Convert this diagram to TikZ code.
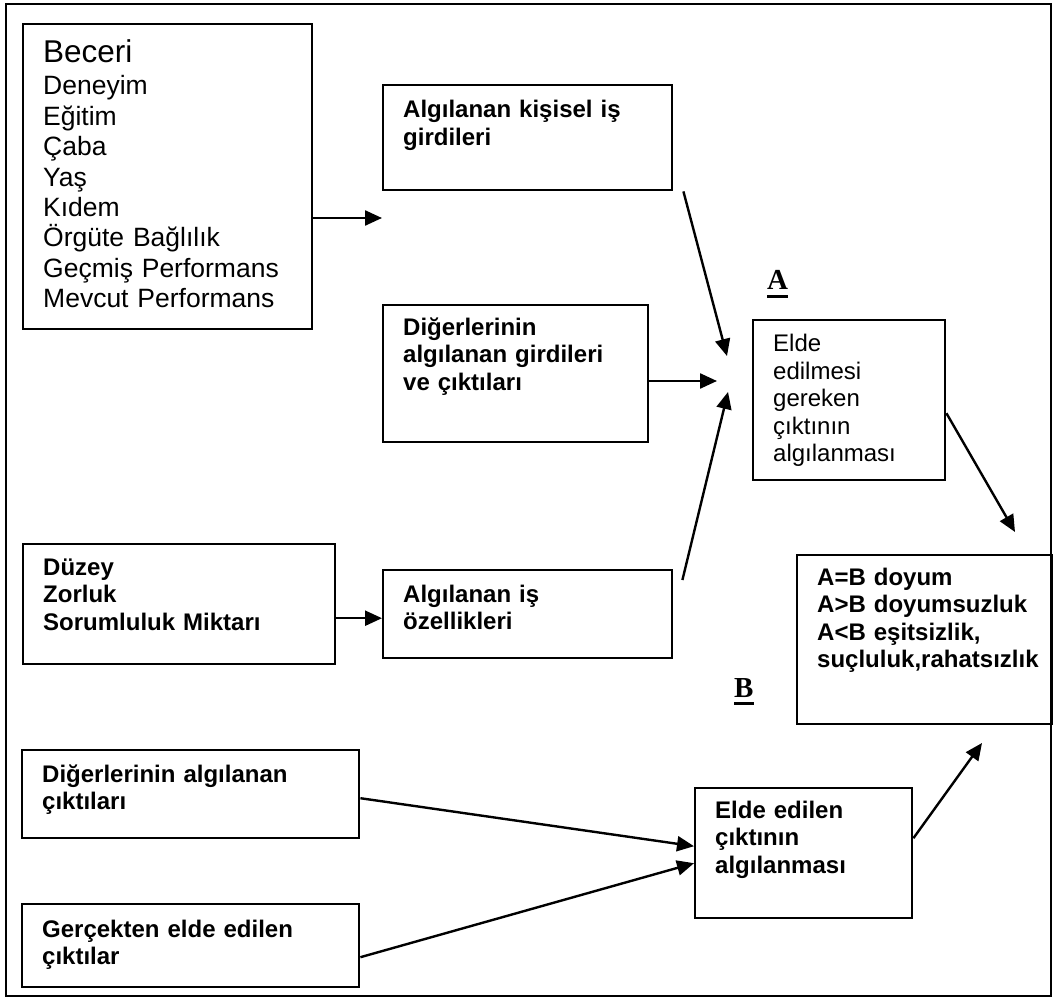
\documentclass[tikz,border=0pt]{standalone}
\usepackage{fontspec}
\setmainfont{Liberation Sans}
\newfontfamily\labfont{Liberation Serif}
\usetikzlibrary{arrows.meta}

\newcommand{\bigtxt}{\fontsize{26.5}{30.4}\selectfont}
\newcommand{\midtxt}{\fontsize{24}{27.5}\selectfont}
\newcommand{\boldtxt}{\fontsize{24}{27.5}\selectfont\bfseries}
\newcommand{\ulabel}[1]{\setbox0\hbox{#1}\rlap{\rule[-8pt]{\wd0}{3pt}}\box0}

\begin{document}
\begin{tikzpicture}[x=1pt, y=-1pt]
    \useasboundingbox (0,0) rectangle (1055,1000);
    \draw[line width=2.8pt] (6,4) rectangle (1051,996);
    \begin{scope}[every node/.style={rectangle, draw, line width=2.4pt, anchor=north west, inner sep=0}]
        \node[minimum width=289pt, minimum height=305pt] (b1) at (22,23) {};
        \node[minimum width=289pt, minimum height=105pt] (b2) at (382,84) {};
        \node[minimum width=265pt, minimum height=137pt] (b3) at (382,304) {};
        \node[minimum width=192pt, minimum height=160pt] (b4) at (752,319) {};
        \node[minimum width=255pt, minimum height=169pt] (b5) at (796,554) {};
        \node[minimum width=312pt, minimum height=120pt] (b6) at (22,543) {};
        \node[minimum width=289pt, minimum height=88pt] (b7) at (382,569) {};
        \node[minimum width=337pt, minimum height=88pt] (b8) at (21,749) {};
        \node[minimum width=337pt, minimum height=83pt] (b9) at (21,903) {};
        \node[minimum width=217pt, minimum height=130pt] (b10) at (694,787) {};
    \end{scope}
    \begin{scope}[every node/.style={anchor=base west, inner sep=0, text width=300pt, align=left}]
        \node[font=\bigtxt] (t1) at (43,63) {{\fontsize{31.5}{32}\selectfont Beceri}\\[1.6pt]
            Deneyim\\ Eğitim\\ Çaba\\ Yaş\\ Kıdem\\ Örgüte Bağlılık\\ Geçmiş Performans\\ Mevcut Performans};
        \node[font=\boldtxt] (t2) at (403,118) {Algılanan kişisel iş\\ girdileri};
        \node[font=\boldtxt] (t3) at (403,335) {Diğerlerinin\\ algılanan girdileri\\ ve çıktıları};
        \node[font=\midtxt] (t4) at (773,352) {Elde\\ edilmesi\\ gereken\\ çıktının\\ algılanması};
        \node[font=\boldtxt] (t5) at (817,585) {A=B doyum\\ A>B doyumsuzluk\\ A<B eşitsizlik,\\ suçluluk,rahatsızlık};
        \node[font=\boldtxt] (t6) at (43,575) {Düzey\\ Zorluk\\ Sorumluluk Miktarı};
        \node[font=\boldtxt] (t7) at (403,602) {Algılanan iş\\ özellikleri};
        \node[font=\boldtxt] (t8) at (42,782) {Diğerlerinin algılanan\\ çıktıları};
        \node[font=\boldtxt] (t9) at (42,937) {Gerçekten elde edilen\\ çıktılar};
        \node[font=\boldtxt] (t10) at (715,818) {Elde edilen\\ çıktının\\ algılanması};
        \node[font=\labfont\fontsize{29}{30}\selectfont\bfseries, text width=] (la) at (767,290) {\ulabel{A}};
        \node[font=\labfont\fontsize{29}{30}\selectfont\bfseries, text width=] (lb) at (734,697) {\ulabel{B}};
    \end{scope}
    % free ends of the arrows
    \coordinate (p1) at (382,218);
    \coordinate (in1) at (727,356);
    \coordinate (in2) at (717,381);
    \coordinate (in3) at (728,392);
    \coordinate (p4) at (1015,532);
    \coordinate (p5) at (982,743);
    \begin{scope}[every edge/.style={draw=black, line width=2.4pt, -{Triangle[length=17pt,width=15pt]}}]
        \path (b1.east |- p1) edge (p1);
        \path ([xshift=10pt]b2.south east) edge (in1);
        \path (b3.east |- in2) edge (in2);
        \path ([xshift=9pt,yshift=-11pt]b7.north east) edge (in3);
        \path ([yshift=-13pt]b4.east) edge (p4);
        \path ([yshift=-14pt]b6.east) edge ([yshift=-4pt]b7.west);
        \path ([yshift=-4pt]b8.east) edge ([yshift=7pt]b10.west);
        \path ([yshift=-11.5pt]b9.east) edge ([yshift=-10pt]b10.west);
        \path ([yshift=15pt]b10.east) edge (p5);
    \end{scope}
\end{tikzpicture}
\end{document}
